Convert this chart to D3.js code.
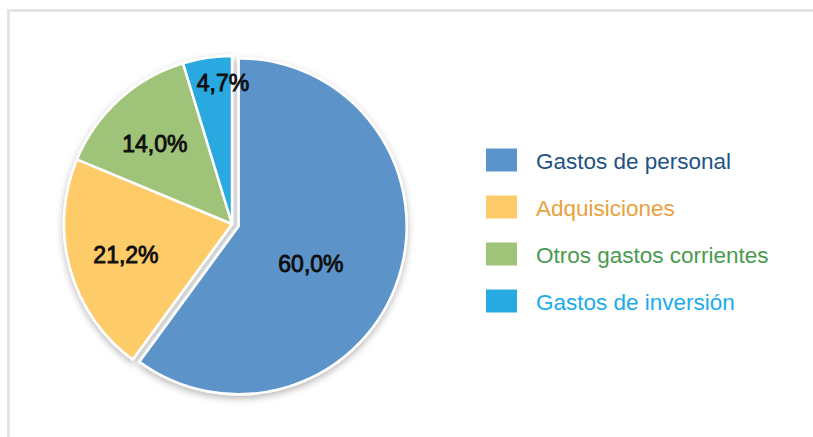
<!DOCTYPE html>
<html>
<head>
<meta charset="utf-8">
<script src="https://cdn.jsdelivr.net/npm/d3@7"></script>
<style>
  html, body { margin: 0; padding: 0; background: #fff; }
  svg { display: block; }
</style>
</head>
<body>
<svg id="chart" width="813" height="437"></svg>
<script>
// Expenditure breakdown (percent of total)
const categories = ["Gastos de personal", "Adquisiciones", "Otros gastos corrientes", "Gastos de inversión"];
const values = [60.0, 21.2, 14.0, 4.7];
const labels = ["60,0%", "21,2%", "14,0%", "4,7%"];
const sliceColors = ["#5b94ca", "#fecb69", "#a0c37a", "#29a9e1"];
const legendTextColors = ["#1f5283", "#e8a23e", "#4a9a50", "#1aaceb"];
const exploded = [true, false, false, false];

const svg = d3.select("#chart");
const W = 813, H = 437;

// panel frame
svg.append("rect")
  .attr("x", 8.5).attr("y", 10.5)
  .attr("width", W + 20).attr("height", H + 20)
  .attr("fill", "#fff")
  .attr("stroke", "#e4e4e4").attr("stroke-width", 3);

const defs = svg.append("defs");
const shadow = defs.append("filter").attr("id", "pieShadow")
  .attr("x", "-20%").attr("y", "-20%").attr("width", "140%").attr("height", "140%");
shadow.append("feDropShadow")
  .attr("dx", 0).attr("dy", 3).attr("stdDeviation", 3.5)
  .attr("flood-color", "#000").attr("flood-opacity", 0.28);

const cx = 232, cy = 224, R = 168, explodeDist = 7;

const pie = d3.pie().sort(null).value(d => d)
  .startAngle(0).endAngle(2 * Math.PI);
const arcs = pie(values);
const arc = d3.arc().innerRadius(0).outerRadius(R);

const g = svg.append("g")
  .attr("transform", `translate(${cx},${cy})`)
  .attr("filter", "url(#pieShadow)");

function offset(d, i) {
  if (!exploded[i]) return [0, 0];
  const a = (d.startAngle + d.endAngle) / 2;
  return [Math.sin(a) * explodeDist, -Math.cos(a) * explodeDist];
}

g.selectAll("path.slice")
  .data(arcs)
  .join("path")
  .attr("class", "slice")
  .attr("transform", (d, i) => { const o = offset(d, i); return `translate(${o[0]},${o[1]})`; })
  .attr("d", arc)
  .attr("fill", (d, i) => sliceColors[i])
  .attr("stroke", "#fff")
  .attr("stroke-width", 2.5)
  .attr("stroke-linejoin", "round");

// value labels: radius fraction and angular nudge (degrees) from each slice's bisector
const labelRadius = [0.486, 0.657, 0.66, 0.84];
const labelNudge = [9.6, -0.5, -2, 4.8];
function labelPos(d, i) {
  const a = (d.startAngle + d.endAngle) / 2 + labelNudge[i] * Math.PI / 180;
  const o = offset(d, i);
  return [o[0] + Math.sin(a) * R * labelRadius[i], o[1] - Math.cos(a) * R * labelRadius[i]];
}
const lg = svg.append("g").attr("transform", `translate(${cx},${cy})`);
lg.selectAll("text")
  .data(arcs)
  .join("text")
  .attr("x", (d, i) => labelPos(d, i)[0])
  .attr("y", (d, i) => labelPos(d, i)[1])
  .attr("text-anchor", "middle")
  .attr("dominant-baseline", "central")
  .attr("font-family", "Liberation Sans, Arial, sans-serif")
  .attr("font-size", 23)
  .attr("fill", "#0d0d0d")
  .attr("stroke", "#0d0d0d").attr("stroke-width", 0.85)
  .text((d, i) => labels[i]);

// legend
const legendY = d3.scalePoint().domain(categories).range([160, 301]);
const legend = svg.append("g");
const items = legend.selectAll("g")
  .data(categories)
  .join("g")
  .attr("transform", d => `translate(486,${legendY(d)})`);
items.append("rect")
  .attr("x", 0).attr("y", -11.5)
  .attr("width", 31).attr("height", 23)
  .attr("fill", (d, i) => sliceColors[i]);
items.append("text")
  .attr("x", 50).attr("y", 1.5)
  .attr("dominant-baseline", "central")
  .attr("font-family", "Liberation Sans, Arial, sans-serif")
  .attr("font-size", 22.5)
  .attr("fill", (d, i) => legendTextColors[i])
  .text(d => d);
</script>
</body>
</html>
